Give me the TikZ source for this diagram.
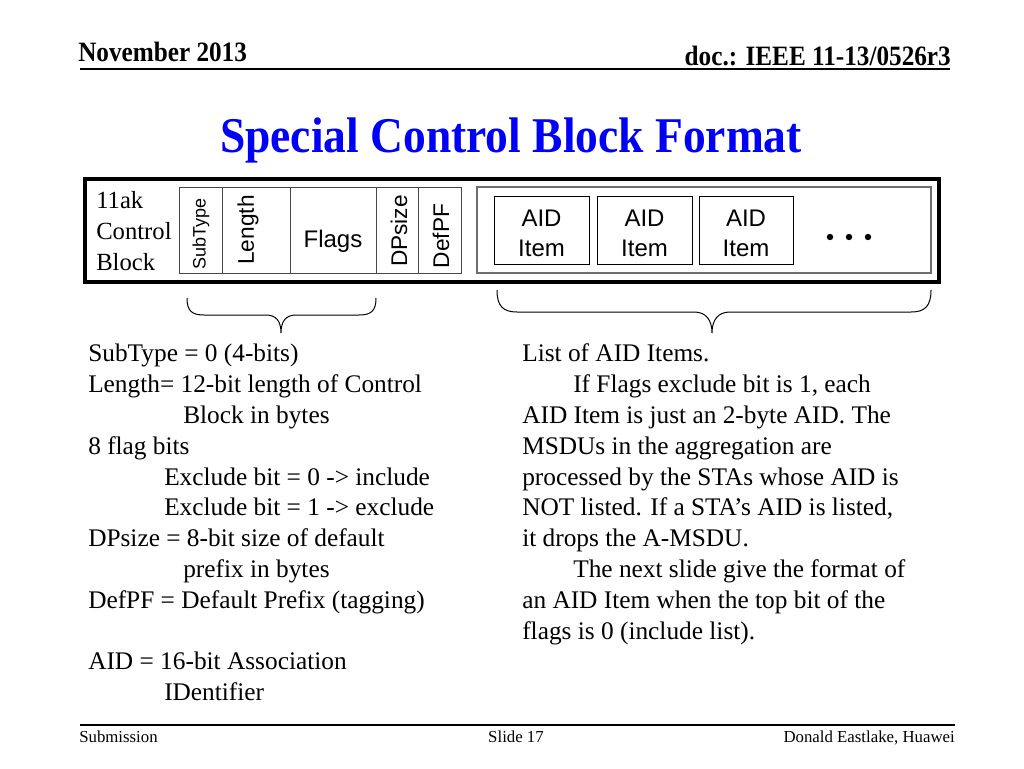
\documentclass[tikz,border=0pt]{standalone}
\usepackage{fontspec}
\setmainfont{Liberation Serif}
\newfontfamily\sansf{Liberation Sans}
\newfontfamily\hdrf[FakeStretch=0.9]{Liberation Serif}
\newfontfamily\ttlf[FakeStretch=0.91]{Liberation Serif}
\definecolor{ttlblue}{RGB}{0,0,250}
\definecolor{boxgray}{RGB}{70,70,70}
\definecolor{listgray}{RGB}{110,110,110}
\begin{document}
\begin{tikzpicture}[x=0.75pt,y=-0.75pt,
  hdr/.style={font=\hdrf\bfseries\fontsize{21}{25}\selectfont, inner sep=0, anchor=base west},
  ttl/.style={font=\ttlf\bfseries\fontsize{37.5}{44}\selectfont, inner sep=0, anchor=base, text=ttlblue},
  body/.style={font=\fontsize{19}{23}\selectfont, anchor=base west, inner sep=0},
  foot/.style={font=\fontsize{12.6}{15}\selectfont, inner sep=0},
  lbl/.style={font=\fontsize{18.5}{23.2}\selectfont, anchor=base west, inner sep=0},
  sfl/.style={font=\sansf\fontsize{17}{20}\selectfont, inner sep=0},
  aid/.style={draw=black, line width=0.75pt, minimum height=51pt, inner sep=0},
  aidtxt/.style={align=center, font=\sansf\fontsize{18}{22.5}\selectfont, inner sep=0},
  field/.style={draw=boxgray, line width=0.75pt},
  brace/.style={draw=black, line width=0.75pt}]
\useasboundingbox (0,0) rectangle (1024,768);
\fill[white] (0,0) rectangle (1024,768);

% header
\node[hdr] (month) at (78,61) {November 2013};
\node[hdr, anchor=base east] (doc) at (951,65) {doc.: IEEE 11-13/0526r3};
\coordinate (hl) at (80,68.5);
\coordinate (hr) at (950,68.5);
\draw[line width=1.5pt] (hl) -- (hr);

% title
\node[ttl] (title) at (511,152) {Special Control Block Format};

% outer block
\draw[line width=3pt] (85,179) rectangle (939,282);
\node[lbl] (b1) at (96,208) {11ak};
\node[lbl] (b2) at (96,239) {Control};
\node[lbl] (b3) at (96,270) {Block};

% fields
\draw[field] (179,187) rectangle (461,273);
\foreach \x in {222,290,376,418} \draw[field] (\x,187) -- (\x,273);
\node[sfl, rotate=90, font=\sansf\fontsize{13.5}{16}\selectfont] (subtype) at (201,234) {SubType};
\node[sfl, rotate=90] (length) at (248,230) {Length};
\node[sfl, font=\sansf\fontsize{18}{22}\selectfont] (flags) at (333,241) {Flags};
\node[sfl, rotate=90] (dpsize) at (399,231) {DPsize};
\node[sfl, rotate=90] (defpf) at (441,236) {DefPF};

% AID list
\draw[draw=listgray, line width=1.1pt] (477,187) rectangle (931,273);
\node[aid, minimum width=71.25pt] (a1) at (541.5,230) {};
\node[aid, minimum width=71.25pt] (a2) at (644.5,230) {};
\node[aid, minimum width=70.5pt] (a3) at (746,230) {};
\node[aidtxt] (t1) at ([yshift=-2.5pt]a1.center) {AID\\Item};
\node[aidtxt] (t2) at ([yshift=-2.5pt]a2.center) {AID\\Item};
\node[aidtxt] (t3) at ([yshift=-2.5pt]a3.center) {AID\\Item};
\foreach \x/\n in {830/d1,849/d2,868/d3} \fill (\x,237) circle[radius=3.2] coordinate (\n);

% braces
\draw[brace] (187,298) .. controls (187,311) and (192,315) .. (204,315)
  -- (266,315) .. controls (276,315) and (281,321) .. (281,333)
  .. controls (281,321) and (286,315) .. (296,315)
  -- (359,315) .. controls (371,315) and (376,311) .. (376,298);
\draw[brace] (497,290) .. controls (497,306) and (503,312) .. (517,312)
  -- (694,312) .. controls (706,312) and (712,320) .. (712,333)
  .. controls (712,320) and (718,312) .. (730,312)
  -- (911,312) .. controls (925,312) and (931,306) .. (931,290);

% left column
\node[body] (l1) at (88,361) {SubType = 0 (4-bits)};
\node[body] (l2) at (88,392) {Length= 12-bit length of Control};
\node[body] (l3) at (183,423) {Block in bytes};
\node[body] (l4) at (88,454) {8 flag bits};
\node[body] (l5) at (164,485) {Exclude bit = 0 -> include};
\node[body] (l6) at (164,515) {Exclude bit = 1 -> exclude};
\node[body] (l7) at (88,546) {DPsize = 8-bit size of default};
\node[body] (l8) at (183,577) {prefix in bytes};
\node[body] (l9) at (88,608) {DefPF = Default Prefix (tagging)};
\node[body] (l10) at (88,669) {AID = 16-bit Association};
\node[body] (l11) at (164,700) {IDentifier};

% right column
\node[body] (r1) at (522,361) {List of AID Items.};
\node[body] (r2) at (573,392) {If Flags exclude bit is 1, each};
\node[body] (r3) at (522,423) {AID Item is just an 2-byte AID. The};
\node[body] (r4) at (522,454) {MSDUs in the aggregation are};
\node[body] (r5) at (522,485) {processed by the STAs whose AID is};
\node[body] (r6) at (522,515) {NOT listed. If a STA’s AID is listed,};
\node[body] (r7) at (522,546) {it drops the A-MSDU.};
\node[body] (r8) at (573,577) {The next slide give the format of};
\node[body] (r9) at (522,608) {an AID Item when the top bit of the};
\node[body] (r10) at (522,639) {flags is 0 (include list).};

% footer
\coordinate (fl) at (80,725);
\coordinate (fr) at (955,725);
\draw[line width=1.1pt] (fl) -- (fr);
\node[foot, anchor=base west] (sub) at (79,742) {Submission};
\node[foot, anchor=base] (slide) at (516,742) {Slide 17};
\node[foot, anchor=base east] (auth) at (955,742) {Donald Eastlake, Huawei};
\end{tikzpicture}
\end{document}
